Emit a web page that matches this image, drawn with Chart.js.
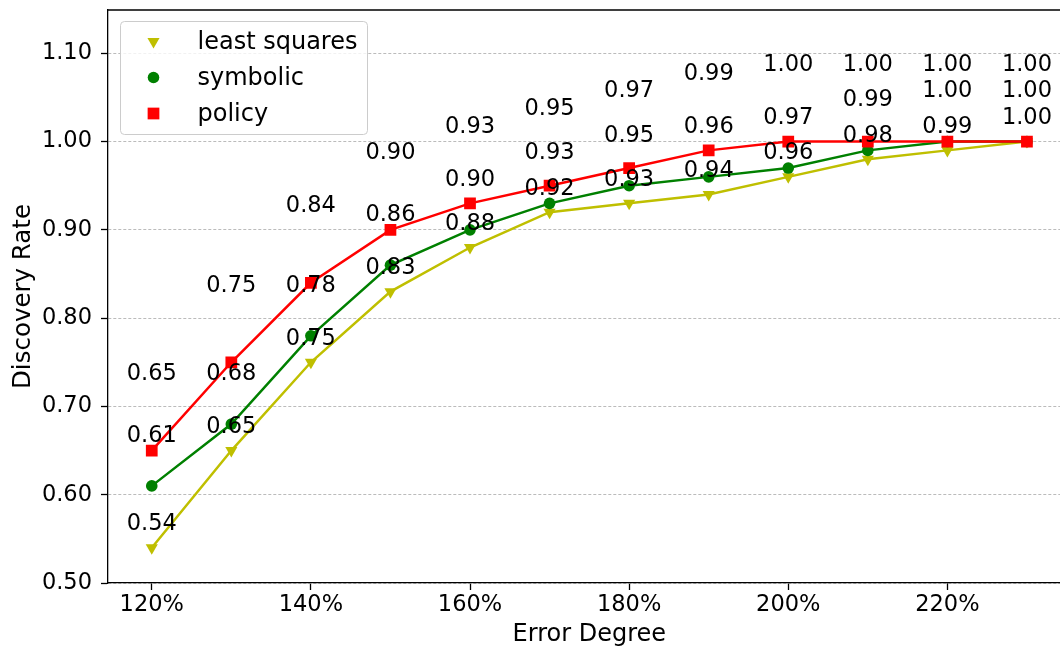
<!DOCTYPE html>
<html>
<head>
<meta charset="utf-8">
<script src="https://cdn.jsdelivr.net/npm/chart.js@4/dist/chart.umd.min.js"></script>
<style>
  html, body { margin: 0; padding: 0; background: #ffffff; overflow: hidden; }
  canvas { display: block; }
</style>
</head>
<body>
<canvas id="chart" width="1079" height="647"></canvas>
<script>
// Error degree (%) on the x axis
const errorDegrees = [120, 130, 140, 150, 160, 170, 180, 190, 200, 210, 220, 230];

// Discovery rate per method
const leastSquares = [0.54, 0.65, 0.75, 0.83, 0.88, 0.92, 0.93, 0.94, 0.96, 0.98, 0.99, 1.00];
const symbolic     = [0.61, 0.68, 0.78, 0.86, 0.90, 0.93, 0.95, 0.96, 0.97, 0.99, 1.00, 1.00];
const policy       = [0.65, 0.75, 0.84, 0.90, 0.93, 0.95, 0.97, 0.99, 1.00, 1.00, 1.00, 1.00];

const seriesNames = ['least squares', 'symbolic', 'policy'];

// Tick positions
const xTicks = [120, 140, 160, 180, 200, 220];
const yTicks = [0.50, 0.60, 0.70, 0.80, 0.90, 1.00, 1.10];

const FONT = 'DejaVu Sans';

function toPoints(values) {
  return errorDegrees.map((x, i) => ({ x: x, y: values[i] }));
}

// Style of each series: colour, marker, and how far above the point its value label sits
const seriesStyle = [
  { color: '#bfbf00', pointStyle: 'triangle', rotation: 180, radius: 7.0, lift: 0.02, order: 3 },
  { color: '#008000', pointStyle: 'circle',   rotation: 0,   radius: 5.8, lift: 0.05, order: 2 },
  { color: '#ff0000', pointStyle: 'rect',     rotation: 0,   radius: 8.3, lift: 0.08, order: 1 }
];

const seriesValues = [leastSquares, symbolic, policy];

const datasets = seriesValues.map((vals, i) => ({
  label: seriesNames[i],
  data: toPoints(vals),
  borderColor: seriesStyle[i].color,
  backgroundColor: seriesStyle[i].color,
  borderWidth: 2.5,
  tension: 0,
  pointStyle: seriesStyle[i].pointStyle,
  pointRotation: seriesStyle[i].rotation,
  pointRadius: seriesStyle[i].radius,
  pointHoverRadius: seriesStyle[i].radius,
  pointBorderWidth: 0,
  pointBackgroundColor: seriesStyle[i].color,
  order: seriesStyle[i].order
}));

// Value labels above each point
const valueLabels = {
  id: 'valueLabels',
  afterDraw(chart) {
    const ctx = chart.ctx;
    const yScale = chart.scales.y;
    ctx.save();
    ctx.font = '22.5px "' + FONT + '"';
    ctx.fillStyle = '#000000';
    ctx.textAlign = 'center';
    ctx.textBaseline = 'alphabetic';
    chart.data.datasets.forEach((ds, di) => {
      const meta = chart.getDatasetMeta(di);
      meta.data.forEach((pt, j) => {
        const v = ds.data[j].y;
        const py = yScale.getPixelForValue(v + seriesStyle[di].lift);
        ctx.fillText(v.toFixed(2), pt.x, py);
      });
    });
    ctx.restore();
  }
};

// Top and right frame lines
const frame = {
  id: 'frame',
  afterDatasetsDraw(chart) {
    const a = chart.chartArea;
    const ctx = chart.ctx;
    ctx.save();
    ctx.strokeStyle = '#000000';
    ctx.lineWidth = 1.3;
    ctx.beginPath();
    ctx.moveTo(a.left, a.top);
    ctx.lineTo(a.right, a.top);
    ctx.lineTo(a.right, a.bottom);
    ctx.stroke();
    ctx.restore();
  }
};

// Legend box in the upper-left corner of the plot
function drawMarker(ctx, style, x, y) {
  ctx.fillStyle = style.color;
  ctx.beginPath();
  const r = style.radius;
  if (style.pointStyle === 'circle') {
    ctx.arc(x, y, r, 0, Math.PI * 2);
  } else if (style.pointStyle === 'rect') {
    const s = r * Math.SQRT1_2;
    ctx.rect(x - s, y - s, 2 * s, 2 * s);
  } else {
    const w = r * Math.sqrt(3) / 2;
    ctx.moveTo(x, y + r);
    ctx.lineTo(x - w, y - r / 2);
    ctx.lineTo(x + w, y - r / 2);
    ctx.closePath();
  }
  ctx.fill();
}

const boxLegend = {
  id: 'boxLegend',
  afterDraw(chart) {
    const a = chart.chartArea;
    const ctx = chart.ctx;
    const x0 = a.left + 12.5, y0 = a.top + 11.5, w = 247, h = 113, rad = 4;
    ctx.save();
    ctx.globalAlpha = 0.8;
    ctx.fillStyle = '#ffffff';
    ctx.beginPath();
    ctx.roundRect(x0, y0, w, h, rad);
    ctx.fill();
    ctx.globalAlpha = 1;
    ctx.strokeStyle = '#cccccc';
    ctx.lineWidth = 1;
    ctx.stroke();
    ctx.font = '24px "' + FONT + '"';
    ctx.textAlign = 'left';
    ctx.textBaseline = 'middle';
    seriesNames.forEach((name, i) => {
      const cy = y0 + 20 + i * 36;
      drawMarker(ctx, seriesStyle[i], x0 + 33, cy);
      ctx.fillStyle = '#000000';
      ctx.fillText(name, x0 + 77, cy + 1);
    });
    ctx.restore();
  }
};

new Chart(document.getElementById('chart'), {
  type: 'line',
  data: { datasets: datasets },
  plugins: [frame, valueLabels, boxLegend],
  options: {
    responsive: false,
    animation: false,
    devicePixelRatio: 1,
    layout: { padding: { top: 10, right: 5, left: 0, bottom: 0 } },
    plugins: {
      legend: { display: false },
      tooltip: { enabled: false }
    },
    scales: {
      x: {
        type: 'linear',
        min: 114.5,
        max: 235.5,
        afterBuildTicks(scale) { scale.ticks = xTicks.map(v => ({ value: v })); },
        afterFit(scale) {
          scale.height = 64;
          scale.paddingLeft = 0;
          scale.paddingRight = 0;
        },
        ticks: {
          color: '#000000',
          font: { family: FONT, size: 22.5 },
          padding: 2,
          maxRotation: 0,
          autoSkip: false,
          callback: (v) => v + '%'
        },
        grid: {
          drawOnChartArea: false,
          drawTicks: true,
          tickLength: 7,
          tickColor: '#000000',
          tickWidth: 1.3
        },
        border: { display: true, color: '#000000', width: 1.3 },
        title: {
          display: true,
          text: 'Error Degree',
          color: '#000000',
          font: { family: FONT, size: 24, lineHeight: 1 },
          padding: { top: 0, bottom: 0 }
        }
      },
      y: {
        type: 'linear',
        min: 0.5,
        max: 1.149,
        afterBuildTicks(scale) { scale.ticks = yTicks.map(v => ({ value: v })); },
        afterFit(scale) {
          scale.width = 108;
          scale.paddingTop = 0;
          scale.paddingBottom = 0;
        },
        ticks: {
          color: '#000000',
          font: { family: FONT, size: 22.5 },
          padding: 9,
          autoSkip: false,
          callback: (v) => Number(v).toFixed(2)
        },
        grid: {
          drawOnChartArea: true,
          drawTicks: true,
          color: '#aaaaaa',
          lineWidth: 0.8,
          tickLength: 7,
          tickColor: '#000000',
          tickWidth: 1.3,
          tickBorderDash: []
        },
        border: { display: true, color: '#000000', width: 1.3, dash: [3, 2] },
        title: {
          display: true,
          text: 'Discovery Rate',
          color: '#000000',
          font: { family: FONT, size: 24.5, lineHeight: 1 },
          padding: { top: 11, bottom: 0 }
        }
      }
    }
  }
});
</script>
</body>
</html>
